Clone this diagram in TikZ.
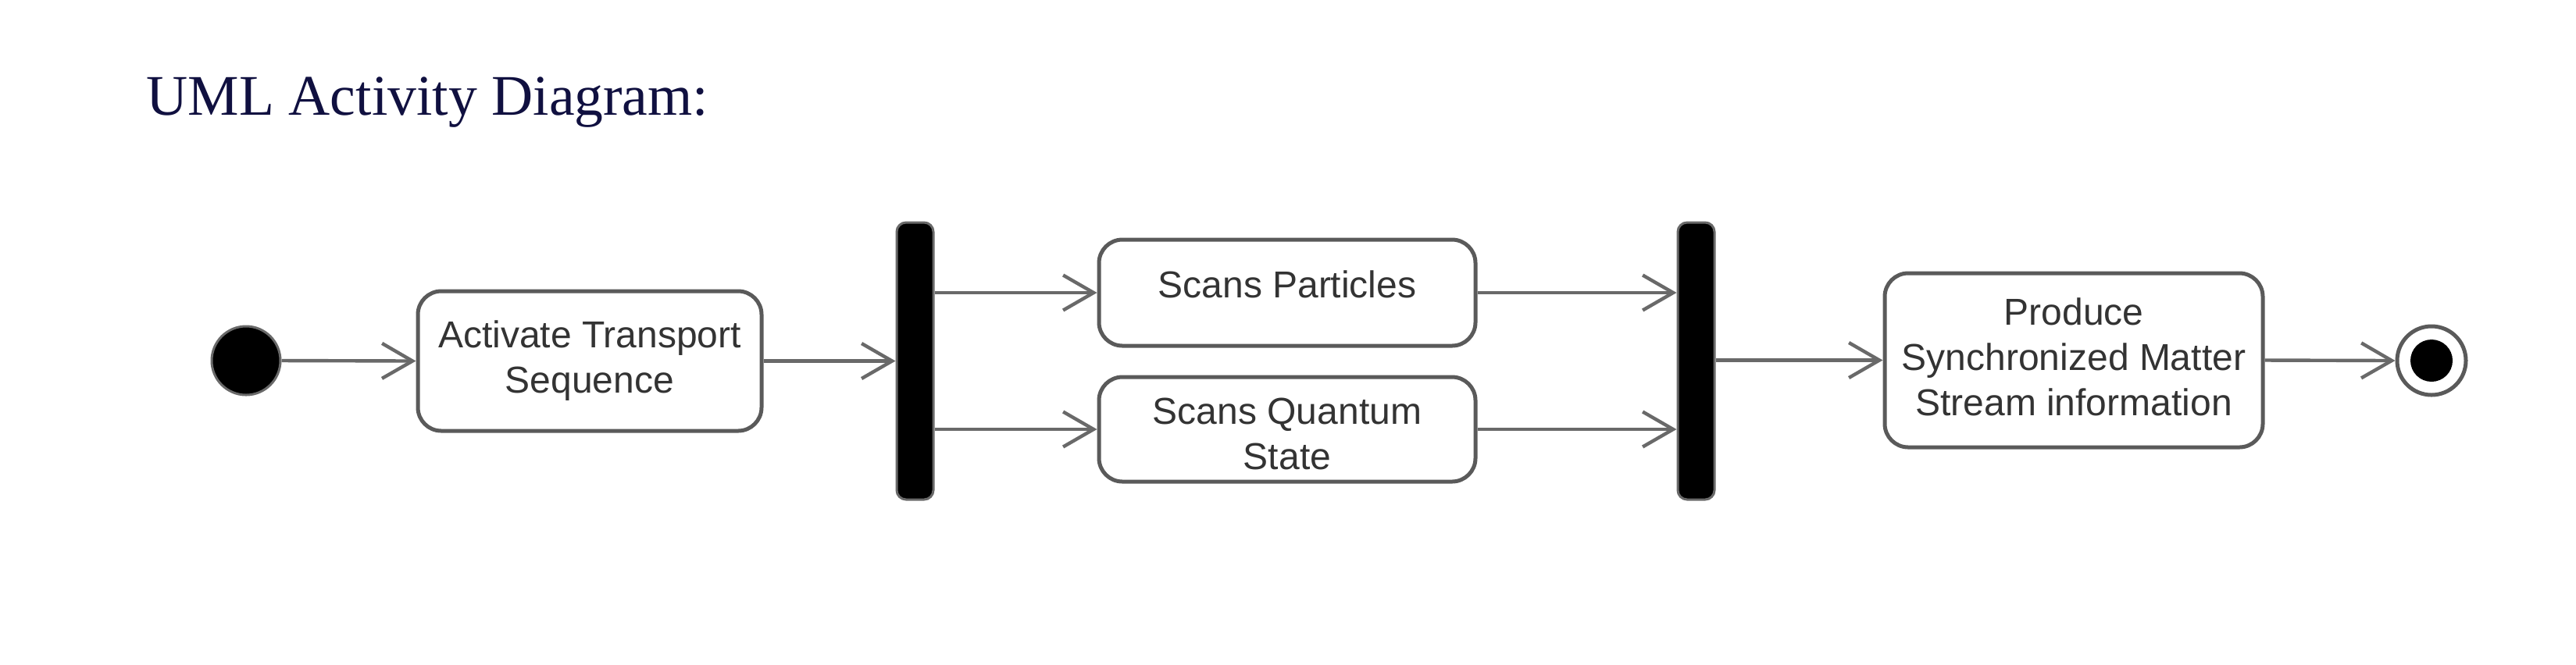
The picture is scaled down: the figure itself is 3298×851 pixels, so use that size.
\documentclass[tikz,border=0pt]{standalone}
\usepackage{fontspec}
\setmainfont{Liberation Sans}
\newfontfamily\titlefont{Liberation Serif}
\usetikzlibrary{arrows.meta}
\definecolor{titleblue}{RGB}{16,16,64}
\definecolor{boxgray}{RGB}{90,90,90}
\definecolor{linegray}{RGB}{105,105,105}
\definecolor{textgray}{RGB}{51,51,51}
\begin{document}
\begin{tikzpicture}[x=0.25pt,y=-0.25pt,
  act/.style={draw=boxgray, line width=1.25pt, rounded corners=7.5pt, fill=white,
    align=center, font=\fontsize{12}{14.5}\selectfont, text=textgray, inner sep=0pt},
  bar/.style={draw=linegray, fill=black, line width=0.75pt, rounded corners=3pt,
    minimum width=11.75pt, minimum height=88.75pt, inner sep=0pt},
  flow/.style={draw=linegray, line width=1.1pt, -{Straight Barb[length=9.75pt,width=11.25pt]}},
  titletext/.style={font=\titlefont\fontsize{18.4}{22}\selectfont, text=titleblue, inner sep=0pt, anchor=base west}
]
\fill[white] (0,0) rectangle (3298,851);
\useasboundingbox (0,0) rectangle (3298,851);

\node[titletext] (title) at (187,147) {UML Activity Diagram:};

\node[circle, fill=black, draw=linegray, line width=0.75pt, minimum size=22pt, inner sep=0pt] (start) at (315,462) {};
\node[act, minimum width=110pt, minimum height=44.75pt] (a1) at (755,462.5) {Activate Transport\\Sequence};
\node[bar] (fork) at (1171.5,462.5) {};
\node[act, minimum width=120.5pt, minimum height=34pt] (a2) at (1648,375) {Scans Particles\rule[-5.5pt]{0pt}{0pt}};
\node[act, minimum width=120.5pt, minimum height=33.5pt] (a3) at (1648,550) {\rule{0pt}{11.2pt}Scans Quantum\\State};
\node[bar] (join) at (2171.5,462.5) {};
\node[act, minimum width=121pt, minimum height=55.75pt] (a4) at (2655,461.5) {Produce\\Synchronized Matter\\Stream information\rule[-2.4pt]{0pt}{0pt}};
\node[circle, draw=boxgray, line width=1.25pt, fill=white, minimum size=22pt, inner sep=0pt] (end) at (3113,462) {};
\fill[black] (end.center) circle (6.75pt);

\draw[flow] (start.east) -- (a1.west);
\draw[flow] (a1.east) -- (fork.west |- a1.east);
\draw[flow] (fork.east |- a2.west) -- (a2.west);
\draw[flow] (fork.east |- a3.west) -- (a3.west);
\draw[flow] (a2.east) -- (join.west |- a2.east);
\draw[flow] (a3.east) -- (join.west |- a3.east);
\draw[flow] (join.east |- a4.west) -- (a4.west);
\draw[flow] (a4.east) -- (end.west);
\end{tikzpicture}
\end{document}
